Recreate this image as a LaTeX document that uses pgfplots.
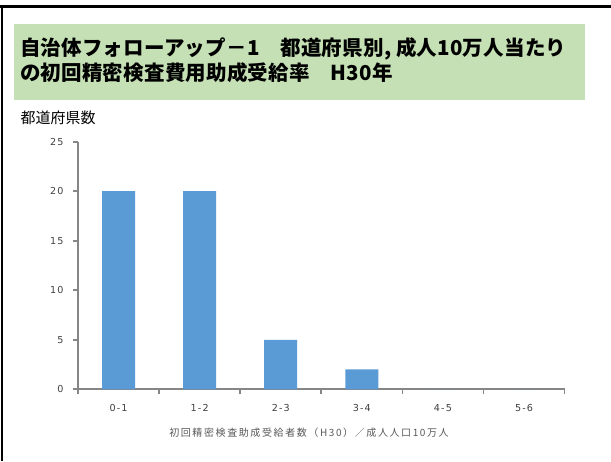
\documentclass[border=0pt]{standalone}
\usepackage{fontspec}
\usepackage{pgfplots}
\pgfplotsset{compat=1.18}
\setmainfont{DejaVu Sans}
\newfontfamily\cjk{Noto Sans CJK JP}
\newfontfamily\cjktitle[LetterSpace=1]{Noto Sans CJK JP}
\newfontfamily\cjkls[LetterSpace=16]{Noto Sans CJK JP}
\newfontfamily\tickfont[LetterSpace=12]{DejaVu Sans}
\definecolor{barblue}{HTML}{5B9BD5}
\definecolor{boxgreen}{HTML}{C5E0B4}
\definecolor{axisgray}{HTML}{868686}
\definecolor{ticktext}{HTML}{404040}
\definecolor{labeltext}{HTML}{595959}
\begin{document}
\begin{tikzpicture}
\path[use as bounding box, fill=white] (0pt,0pt) rectangle (611pt,461pt);
% frame
\draw[black, line width=2.5pt] (0pt,454.5pt) -- (611pt,454.5pt);
\draw[black, line width=2.5pt] (2pt,0pt) -- (2pt,455.75pt);
% title box
\fill[boxgreen] (14pt,437pt) rectangle (585pt,360.5pt);
\node[anchor=base west, inner sep=0pt, font=\cjktitle\bfseries\fontsize{20.5}{24}\selectfont] at (20pt,405pt) {自治体フォローアップ－1　都道府県別, 成人10万人当たり};
\node[anchor=base west, inner sep=0pt, font=\cjktitle\bfseries\fontsize{20.5}{24}\selectfont] at (20pt,380pt) {の初回精密検査費用助成受給率　H30年};
% y label
\node[anchor=base west, inner sep=0pt, font=\cjk\fontsize{15}{18}\selectfont] at (20.5pt,337.5pt) {都道府県数};
% x label
\node[anchor=center, inner sep=0pt, text=labeltext, font=\cjkls\fontsize{10}{12}\selectfont] at (309pt,28.3pt) {初回精密検査助成受給者数（H30）／成人人口10万人};
\begin{axis}[
  at={(78pt,71.7pt)}, anchor=south west,
  scale only axis, width=486.6pt, height=247.6pt,
  xmin=-0.5, xmax=5.5, ymin=0, ymax=25,
  enlargelimits=false,
  axis x line=bottom, axis y line=left,
  axis line style={draw=axisgray, line width=1.6pt, -},
  ybar, bar width=33pt,
  xtick={0,1,2,3,4,5},
  xticklabels={0-1,1-2,2-3,3-4,4-5,5-6},
  minor xtick={-0.5,0.5,1.5,2.5,3.5,4.5,5.5},
  major x tick style={draw=none},
  minor x tick style={draw=axisgray, line width=1.6pt},
  ytick={0,5,10,15,20,25},
  major y tick style={draw=axisgray, line width=1.6pt},
  tick align=outside,
  major tick length=5pt, minor tick length=5pt,
  /pgf/number format/assume math mode=true,
  tick label style={font=\tickfont\fontsize{9.6}{11}\selectfont, text=ticktext},
  xticklabel style={yshift=-7pt},
  yticklabel style={xshift=-6pt},
]
\addplot[fill=barblue, draw=none] coordinates {(0,20) (1,20) (2,5) (3,2) (4,0) (5,0)};
\end{axis}
\end{tikzpicture}
\end{document}
